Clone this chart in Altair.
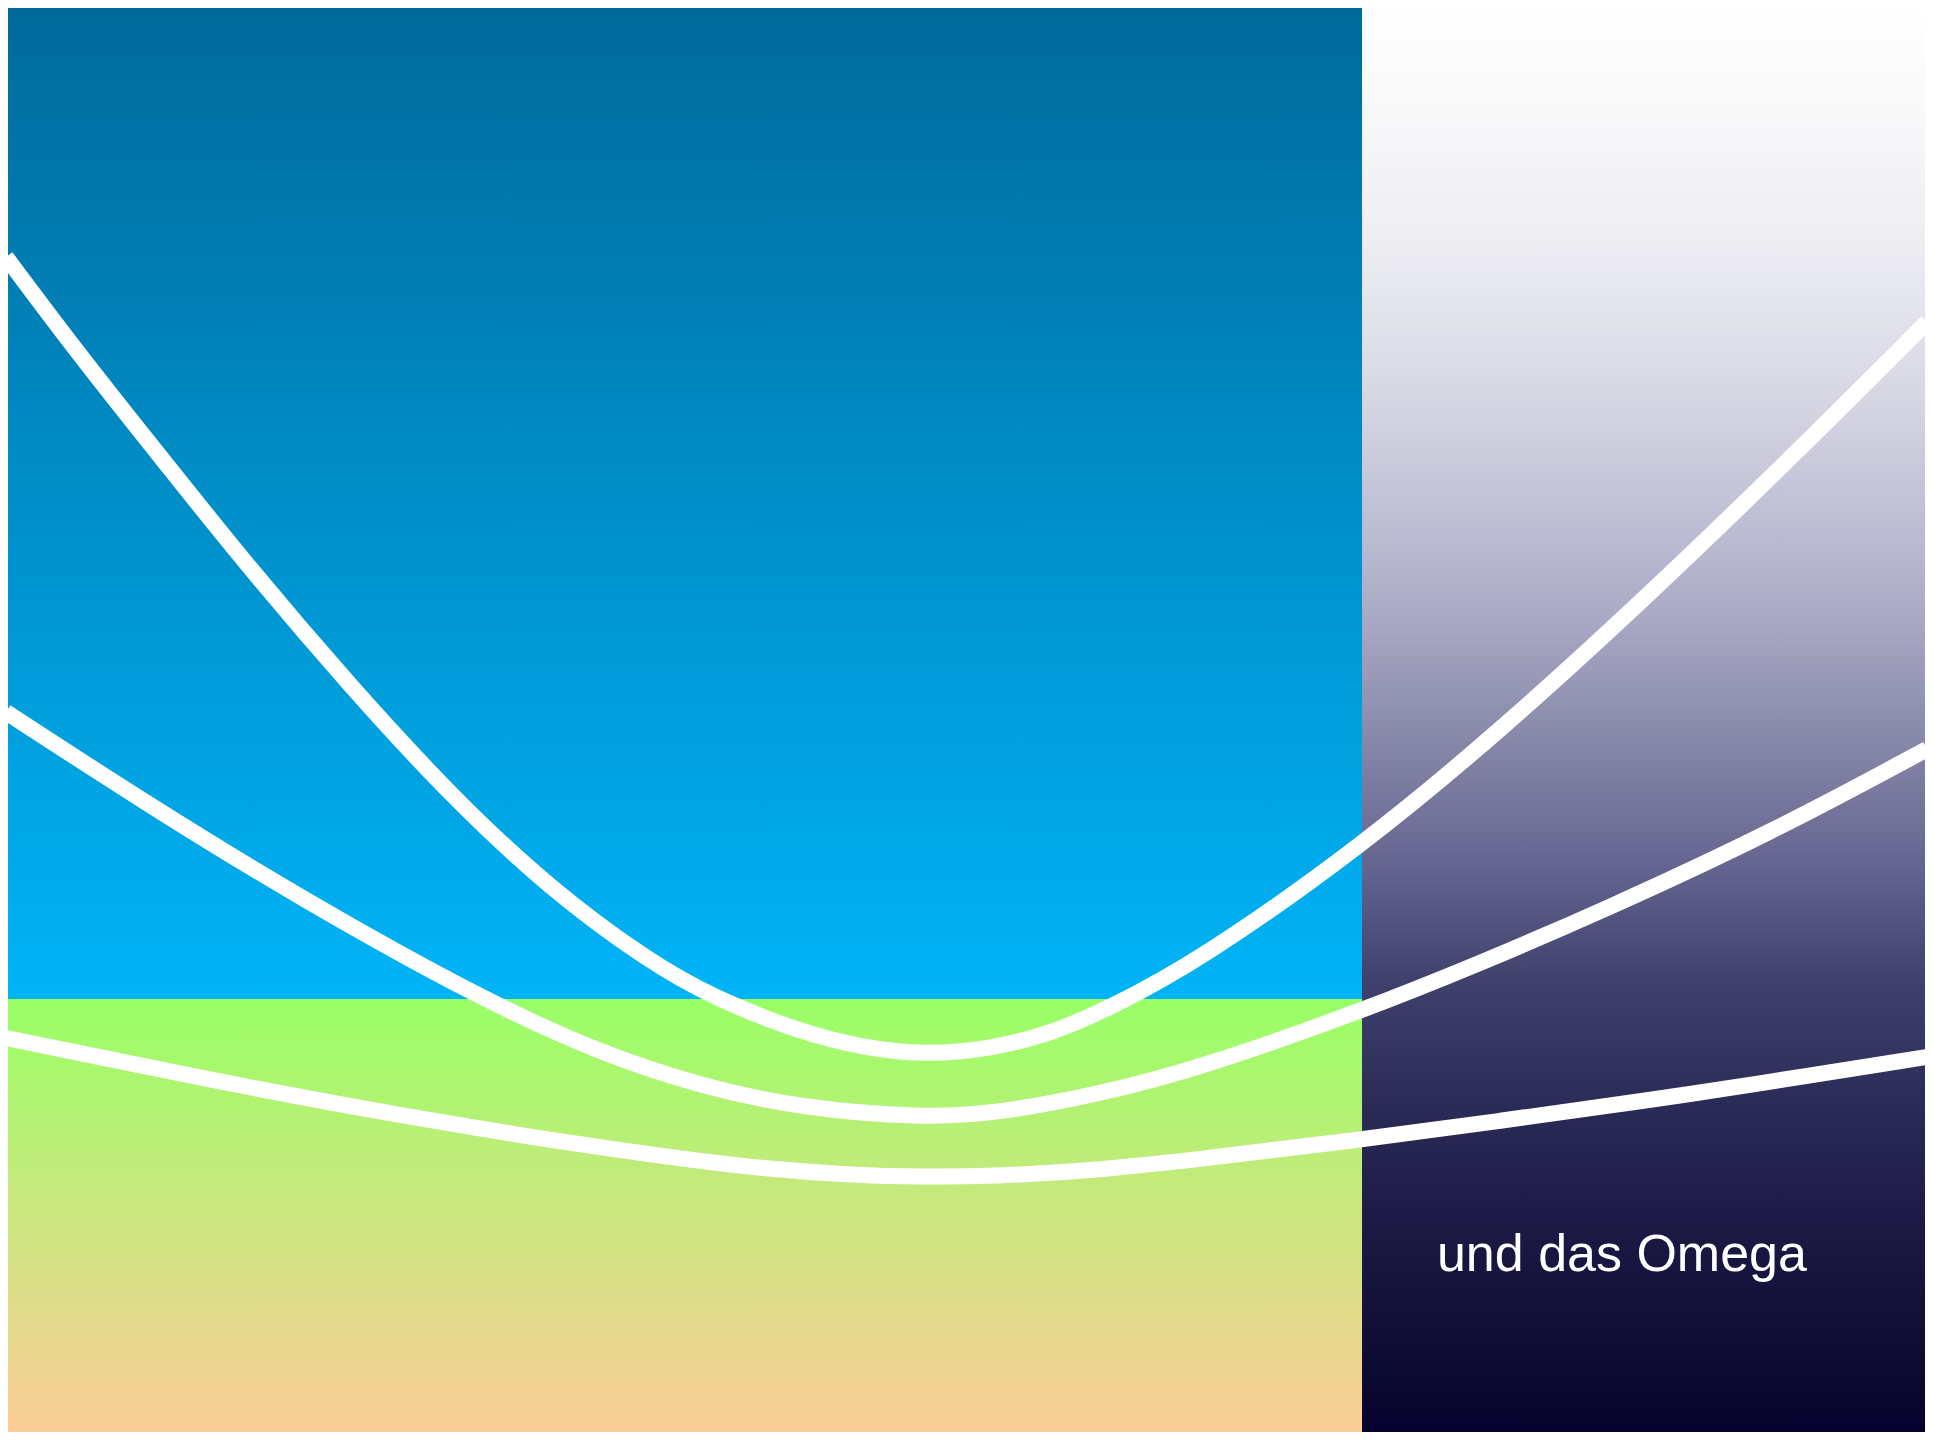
import altair as alt
import pandas as pd

# ---- data (x: 0-100 across the plot, y: 0-100 bottom to top)
upper_x = [0, 3.54, 7.50, 12.70, 17.91, 23.11, 28.32, 33.52, 36.75, 41.33, 44.46, 47.74,
           51.22, 54.35, 57.37, 62.16, 70.59, 77.77, 85.58, 93.34, 100]
upper_y = [82.36, 76.04, 69.38, 60.69, 52.57, 45.00, 38.47, 33.40, 30.97, 28.54, 27.50, 26.94,
           27.36, 28.40, 30.14, 33.54, 41.46, 49.44, 58.96, 68.96, 77.85]

middle_x = [0, 7.50, 15.30, 24.73, 30.92, 36.13, 41.33, 47.74, 51.75, 56.95, 62.16, 70.59,
            76.89, 82.98, 91.98, 100]
middle_y = [50.76, 44.24, 37.85, 30.83, 27.08, 24.79, 23.26, 22.57, 22.92, 24.24, 26.04, 30.00,
            33.40, 36.88, 42.43, 48.19]

lower_x = [0, 10.10, 20.51, 30.92, 38.73, 43.93, 47.74, 51.75, 56.95, 62.16, 69.96, 77.77,
           85.58, 90.79, 100]
lower_y = [28.13, 25.35, 22.71, 20.49, 19.10, 18.61, 18.47, 18.54, 18.96, 19.72, 20.97, 22.36,
           23.82, 24.86, 26.81]

band_names = ["sky", "ground", "panel"]
band_x = [0, 0, 70.59]
band_x2 = [100, 100, 99.9]
band_y = [30.83, 0, 0.1]
band_y2 = [100, 30.83, 99.85]

label_text = ["und das Omega"]
label_x = [84.12]
label_y = [11.94]

# ---- tables
rows = []
for name, xs_, ys_ in [("upper", upper_x, upper_y), ("middle", middle_x, middle_y), ("lower", lower_x, lower_y)]:
    for x, y in zip(xs_, ys_):
        rows.append({"x": x, "y": y, "series": name})
curves = pd.DataFrame(rows)
bands = pd.DataFrame({"name": band_names, "x": band_x, "x2": band_x2, "y": band_y, "y2": band_y2})
labels = pd.DataFrame({"text": label_text, "x": label_x, "y": label_y})

W, H = 1921, 1440
xs = alt.Scale(domain=[0, 100], nice=False, zero=False)
ys = alt.Scale(domain=[0, 100], nice=False, zero=False)


def grad(stops):
    return alt.LinearGradient(
        gradient="linear",
        stops=[alt.GradientStop(color=c, offset=o) for o, c in stops],
        x1=0, x2=0, y1=0, y2=1,
    )


def band(name, stops):
    return (
        alt.Chart(bands)
        .transform_filter(alt.datum.name == name)
        .mark_rect(color=grad(stops), strokeWidth=0)
        .encode(
            x=alt.X("x:Q", scale=xs, axis=None),
            x2="x2:Q",
            y=alt.Y("y:Q", scale=ys, axis=None),
            y2="y2:Q",
        )
    )


sky = band("sky", [(0, "#00699a"), (1, "#00b4f7")])
ground = band("ground", [(0, "#99ff66"), (1, "#ffcc99")])
panel = band("panel", [
    (0.0, "#ffffff"),
    (0.08, "#f8f8fa"),
    (0.17, "#ececf2"),
    (0.25, "#dcdce8"),
    (0.34, "#c4c4d8"),
    (0.43, "#a8a8c4"),
    (0.51, "#8888aa"),
    (0.60, "#646490"),
    (0.68, "#40406c"),
    (0.77, "#2a2a56"),
    (0.85, "#1c1a44"),
    (0.94, "#0e0c34"),
    (1.0, "#04002c"),
])

lines = (
    alt.Chart(curves)
    .mark_line(color="white", strokeWidth=16, interpolate="basis", strokeCap="butt")
    .encode(
        x=alt.X("x:Q", scale=xs, axis=None),
        y=alt.Y("y:Q", scale=ys, axis=None),
        detail="series:N",
    )
)

text = (
    alt.Chart(labels)
    .mark_text(color="white", fontSize=52, font="Liberation Sans", align="center", baseline="alphabetic")
    .encode(
        x=alt.X("x:Q", scale=xs, axis=None),
        y=alt.Y("y:Q", scale=ys, axis=None),
        text="text:N",
    )
)

chart = (
    alt.layer(sky, ground, panel, lines, text)
    .properties(
        width=W,
        height=H,
        padding={"left": -2, "top": -5, "right": -2, "bottom": -11},
        autosize=alt.AutoSizeParams(type="none"),
        background="white",
    )
    .configure_view(strokeWidth=0)
)

chart.save("out.html", embed_options={"renderer": "svg", "actions": False})
